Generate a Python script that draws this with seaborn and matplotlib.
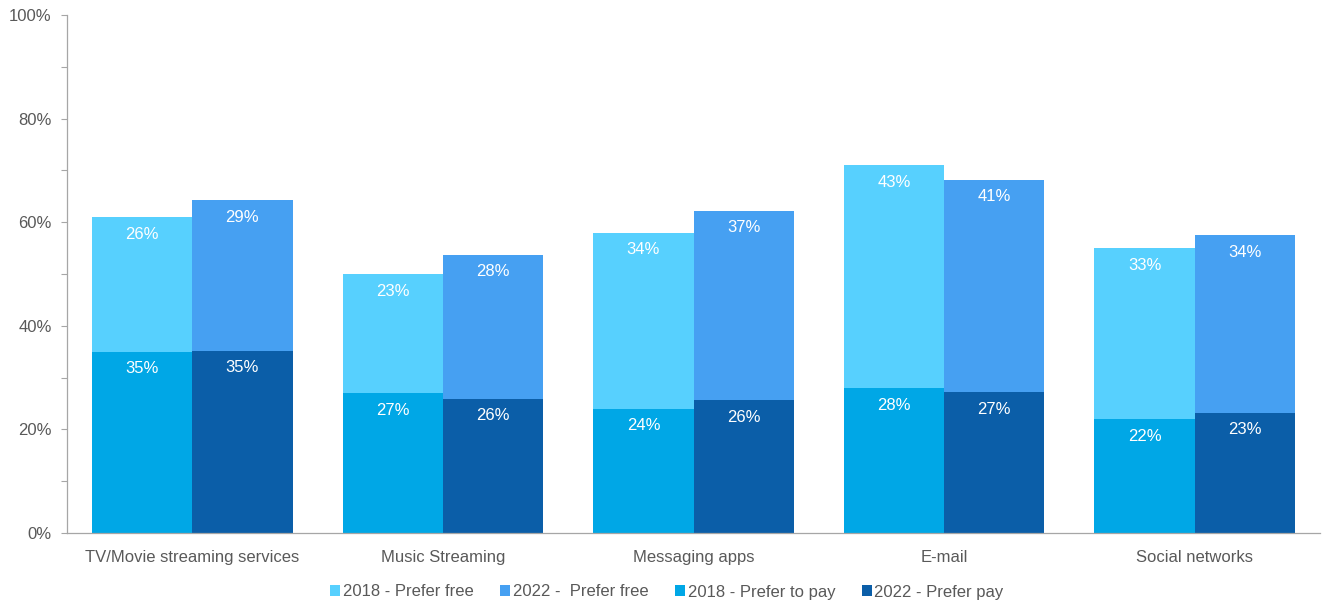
import matplotlib
matplotlib.use("Agg")
import matplotlib.pyplot as plt
from matplotlib.ticker import MultipleLocator, FuncFormatter
from matplotlib.patches import Patch
import seaborn as sns
import pandas as pd

categories = ["TV/Movie streaming services", "Music Streaming", "Messaging apps", "E-mail", "Social networks"]
years = ["2018", "2022"]
pay_2018 = [35.0, 27.0, 24.0, 28.0, 22.0]
pay_2022 = [35.2, 25.9, 25.6, 27.2, 23.2]
free_2018 = [26.0, 23.0, 34.0, 43.0, 33.0]
free_2022 = [29.0, 27.8, 36.6, 41.0, 34.3]
legend_labels = ["2018 - Prefer free", "2022 -  Prefer free", "2018 - Prefer to pay", "2022 - Prefer pay"]

c_free18 = "#57D0FE"
c_free22 = "#46A0F2"
c_pay18 = "#00A7E6"
c_pay22 = "#0B5EA8"
text_grey = "#595959"

rows = []
for i, cat in enumerate(categories):
    rows.append({"cat": cat, "year": "2018", "pay": pay_2018[i], "free": free_2018[i]})
    rows.append({"cat": cat, "year": "2022", "pay": pay_2022[i], "free": free_2022[i]})
df = pd.DataFrame(rows)
df["total"] = df["pay"] + df["free"]

sns.set_theme(style="white")
plt.rcParams["font.family"] = ["Liberation Sans", "DejaVu Sans"]

fig = plt.figure(figsize=(13.26, 6.03), dpi=100)
ax = fig.add_axes([67 / 1326, 1 - 533 / 603, (1320 - 67) / 1326, (533 - 15) / 603])

# full stack height in the "free" colours, then the "pay" part drawn over it
sns.barplot(data=df, x="cat", y="total", hue="year", hue_order=years,
            palette=[c_free18, c_free22], width=0.8, gap=0, dodge=True,
            saturation=1, errorbar=None, legend=False, ax=ax, linewidth=0)
sns.barplot(data=df, x="cat", y="pay", hue="year", hue_order=years,
            palette=[c_pay18, c_pay22], width=0.8, gap=0, dodge=True,
            saturation=1, errorbar=None, legend=False, ax=ax, linewidth=0)

# value labels
for i in range(len(categories)):
    for j, (pay, free) in enumerate([(pay_2018[i], free_2018[i]), (pay_2022[i], free_2022[i])]):
        x = i - 0.2 + 0.4 * j
        ax.annotate(f"{pay:.0f}%", (x, pay), xytext=(0, -12.3), textcoords="offset points",
                    ha="center", va="center", color="white", fontsize=12)
        ax.annotate(f"{free:.0f}%", (x, pay + free), xytext=(0, -12.3), textcoords="offset points",
                    ha="center", va="center", color="white", fontsize=12)

ax.set_xlim(-0.5, 4.5)
ax.set_ylim(0, 100)
ax.yaxis.set_major_locator(MultipleLocator(20))
ax.yaxis.set_minor_locator(MultipleLocator(10))
ax.yaxis.set_major_formatter(FuncFormatter(lambda v, p: f"{v:.0f}%"))
ax.tick_params(axis="y", which="both", left=True, direction="out", length=4, width=0.8,
               color="#A6A6A6", labelcolor=text_grey, labelsize=12, pad=7)
ax.tick_params(axis="x", bottom=False, labelcolor=text_grey, labelsize=12, pad=6)
ax.set_xlabel("")
ax.set_ylabel("")
for s in ["top", "right"]:
    ax.spines[s].set_visible(False)
for s in ["left", "bottom"]:
    ax.spines[s].set_color("#A6A6A6")
    ax.spines[s].set_linewidth(0.9)

handles = [Patch(facecolor=c, edgecolor="none") for c in [c_free18, c_free22, c_pay18, c_pay22]]
fig.legend(handles, legend_labels, loc="center", bbox_to_anchor=(0.503, 1 - 592 / 603), ncol=4,
           frameon=False, fontsize=12, labelcolor=text_grey, handlelength=0.6, handleheight=0.6,
           handletextpad=0.15, columnspacing=1.6)

fig.savefig("out.png", dpi=100)
